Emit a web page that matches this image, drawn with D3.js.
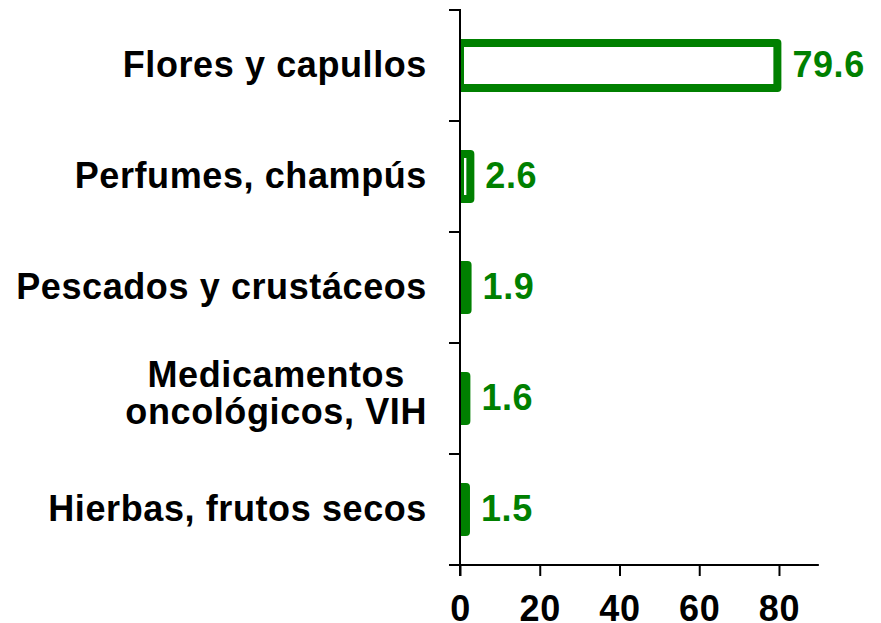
<!DOCTYPE html>
<html>
<head>
<meta charset="utf-8">
<script src="https://cdn.jsdelivr.net/npm/d3@7"></script>
<style>
  body { margin: 0; background: #fff; }
  text { font-family: "Liberation Sans", Arial, sans-serif; font-weight: bold; letter-spacing: 0.6px; }
</style>
</head>
<body>
<svg id="chart"></svg>
<script>

var categories = [
    ["Flores y capullos"],
    ["Perfumes, champús"],
    ["Pescados y crustáceos"],
    ["Medicamentos", "oncológicos, VIH"],
    ["Hierbas, frutos secos"]
];
var values = [79.6, 2.6, 1.9, 1.6, 1.5];
var xTicks = [0, 20, 40, 60, 80];

var dimensions = {
    width: 881,
    height: 623,
    margin: { top: 10, bottom: 58, left: 460, right: 62 }
};

var green = "#008000";
var fontSize = 36;

var svg = d3.select("#chart")
    .attr("width", dimensions.width)
    .attr("height", dimensions.height);

var keys = categories.map(function (c) { return c.join(" "); });

var xScale = d3.scaleLinear()
    .domain([0, 90])
    .range([dimensions.margin.left, dimensions.width - dimensions.margin.right - 0.15]);

var yScale = d3.scaleBand()
    .domain(keys)
    .range([dimensions.margin.top, dimensions.height - dimensions.margin.bottom]);

var bw = yScale.bandwidth();
var barH = bw * 0.405;

// clip so the bar stroke doesn't spill left of the axis
svg.append("clipPath")
    .attr("id", "plotclip")
    .append("rect")
    .attr("x", xScale(0))
    .attr("y", 0)
    .attr("width", dimensions.width)
    .attr("height", dimensions.height);

svg.append("g")
    .attr("clip-path", "url(#plotclip)")
    .selectAll("rect")
    .data(values)
    .enter()
    .append("rect")
    .attr("x", xScale(0))
    .attr("y", function (d, i) { return yScale(keys[i]) + (bw - barH) / 2; })
    .attr("width", function (d) { return xScale(d) - xScale(0); })
    .attr("height", barH)
    .attr("fill", "white")
    .attr("stroke", green)
    .attr("stroke-width", 8)
    .attr("stroke-linejoin", "round");

// value labels
svg.append("g")
    .selectAll("text")
    .data(values)
    .enter()
    .append("text")
    .attr("x", function (d) { return xScale(d) + 15; })
    .attr("y", function (d, i) { return yScale(keys[i]) + bw / 2; })
    .attr("dy", "0.33em")
    .attr("fill", green)
    .style("font-size", fontSize + "px")
    .text(function (d) { return d.toFixed(1); });

// x axis
var xAxisgen = d3.axisBottom(xScale)
    .tickValues(xTicks)
    .tickSize(11)
    .tickSizeOuter(0)
    .tickPadding(19);

var yBottom = yScale.range()[1];

var xAxis = svg.append("g")
    .attr("transform", "translate(0," + yBottom + ")")
    .call(xAxisgen);
xAxis.select(".domain").remove();
xAxis.selectAll(".tick line").attr("stroke", "black").attr("stroke-width", 2);
xAxis.selectAll(".tick text")
    .attr("fill", "black")
    .style("font-size", fontSize + "px")
    .style("font-family", "Liberation Sans, Arial, sans-serif");

// y axis: ticks at band boundaries
var bounds = keys.map(function (k) { return yScale(k); }).concat([yBottom]);

svg.append("g")
    .selectAll("line")
    .data(bounds)
    .enter()
    .append("line")
    .attr("x1", xScale(0) - 11)
    .attr("x2", xScale(0))
    .attr("y1", function (d) { return d; })
    .attr("y2", function (d) { return d; })
    .attr("stroke", "black")
    .attr("stroke-width", 2);

svg.append("line")
    .attr("x1", xScale(0))
    .attr("x2", xScale(0))
    .attr("y1", yScale.range()[0] - 1)
    .attr("y2", yBottom + 11)
    .attr("stroke", "black")
    .attr("stroke-width", 2);

svg.append("line")
    .attr("x1", xScale(0) - 11)
    .attr("x2", xScale.range()[1])
    .attr("y1", yBottom)
    .attr("y2", yBottom)
    .attr("stroke", "black")
    .attr("stroke-width", 2);

// category labels
var labelX = xScale(0) - 33;
var lineH = fontSize * 1.02;

categories.forEach(function (lines, i) {
    var n = lines.length;
    // two-line labels sit a little above the band centre
    var cy = yScale(keys[i]) + bw / 2 - (n > 1 ? 5 : 0);
    var g = svg.append("g");
    var texts = lines.map(function (line, j) {
        return g.append("text")
            .attr("x", labelX)
            .attr("y", cy + (j - (n - 1) / 2) * lineH)
            .attr("dy", "0.33em")
            .attr("text-anchor", "end")
            .attr("fill", "black")
            .style("font-size", fontSize + "px")
            .text(line);
    });
    if (n > 1) {
        // center the block's lines on the widest one
        var widths = texts.map(function (t) { return t.node().getComputedTextLength(); });
        var maxW = d3.max(widths);
        texts.forEach(function (t) {
            t.attr("text-anchor", "middle").attr("x", labelX - maxW / 2);
        });
    }
});

</script>
</body>
</html>
